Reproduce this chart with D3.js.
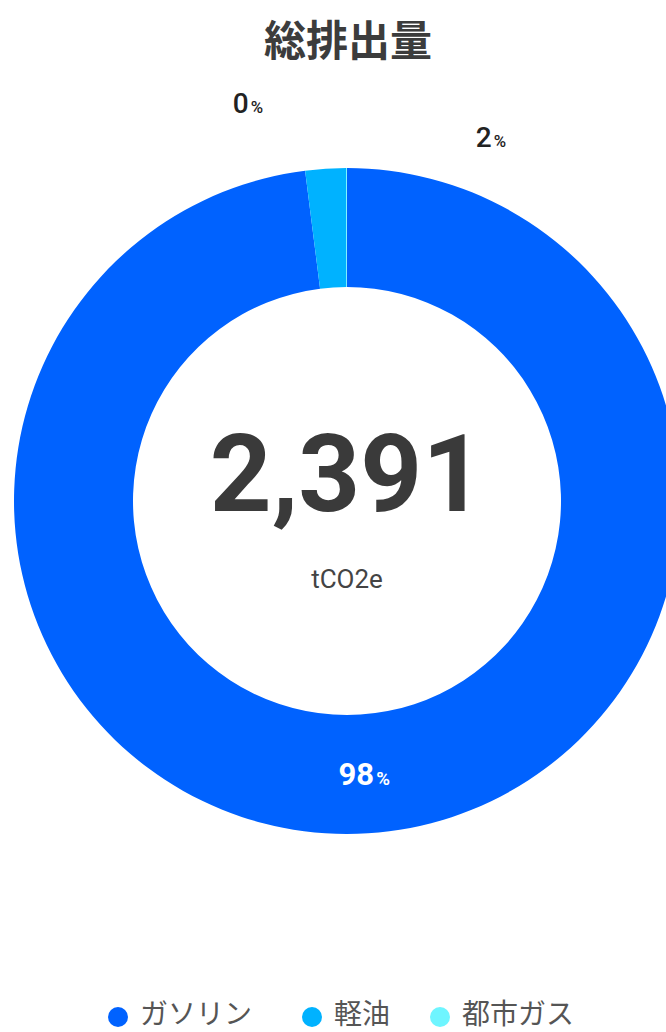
<!DOCTYPE html>
<html>
<head>
<meta charset="utf-8">
<script src="https://cdn.jsdelivr.net/npm/d3@7"></script>
<style>
  html, body { margin: 0; padding: 0; background: #fff; }
  svg { display: block; }
  text { font-family: Roboto, "Noto Sans CJK JP", sans-serif; }
</style>
</head>
<body>
<svg id="chart" width="666" height="1032"></svg>
<script>
const TITLE      = "総排出量";
const CATEGORIES = ["ガソリン", "軽油", "都市ガス"];
const VALUES     = [2343, 47, 1];
const COLORS     = ["#0062ff", "#00b2ff", "#6ef5ff"];
const TOTAL_TEXT = "2,391";
const UNIT       = "tCO2e";

const CX = 347, CY = 501;
const R_OUTER = 333, R_INNER = 214;

const svg = d3.select("#chart");

const total = d3.sum(VALUES);
const pct   = v => Math.round(v / total * 100);

// title
svg.append("text")
   .attr("x", 348).attr("y", 56)
   .attr("text-anchor", "middle")
   .attr("font-family", "'Noto Sans CJK JP', sans-serif")
   .attr("font-weight", 700)
   .attr("font-size", 42)
   .attr("fill", "#3c3c3c")
   .text(TITLE);

// donut
const pie = d3.pie().sort(null).value(d => d);
const arc = d3.arc().innerRadius(R_INNER).outerRadius(R_OUTER);
const arcs = pie(VALUES);

const g = svg.append("g").attr("transform", `translate(${CX},${CY})`);

g.selectAll("path")
 .data(arcs)
 .enter().append("path")
   .attr("d", arc)
   .attr("fill", (d, i) => COLORS[i]);

// centre value
g.append("text")
 .attr("y", -28)
 .attr("dy", "0.35em")
 .attr("text-anchor", "middle")
 .attr("font-weight", 700)
 .attr("font-size", 108)
 .attr("fill", "#3a3a3a")
 .text(TOTAL_TEXT);

g.append("text")
 .attr("y", 87)
 .attr("text-anchor", "middle")
 .attr("font-size", 26)
 .attr("fill", "#444")
 .text(UNIT);

// slice labels: big slice inside at centroid, small ones outside
const outsidePos = [null, [491, 147], [248, 113]];

arcs.forEach((d, i) => {
  let x, y, fill, weight, size;
  if (i === 0) {
    const c = arc.centroid(d);
    x = CX + c[0]; y = CY + c[1] + 11;
    fill = "#fff"; weight = 700; size = 31;
  } else {
    [x, y] = outsidePos[i];
    fill = "#222"; weight = 500; size = 28;
  }
  const t = svg.append("text")
    .attr("x", x).attr("y", y)
    .attr("text-anchor", "middle")
    .attr("font-weight", weight)
    .attr("fill", fill);
  t.append("tspan").attr("font-size", size).text(pct(d.value));
  t.append("tspan").attr("font-size", size * 0.6).attr("dx", 2).text("%");
});

// legend
const legend = svg.append("g").attr("transform", "translate(0,1014)");
const starts = [118, 312, 440];
CATEGORIES.forEach((name, i) => {
  const item = legend.append("g").attr("transform", `translate(${starts[i]},0)`);
  item.append("circle").attr("r", 10).attr("cy", 3).attr("fill", COLORS[i]);
  item.append("text")
      .attr("x", 22).attr("dy", "0.36em")
      .attr("font-family", "'Noto Sans CJK JP', sans-serif")
      .attr("font-size", 28)
      .attr("fill", "#555")
      .text(name);
});
</script>
</body>
</html>
